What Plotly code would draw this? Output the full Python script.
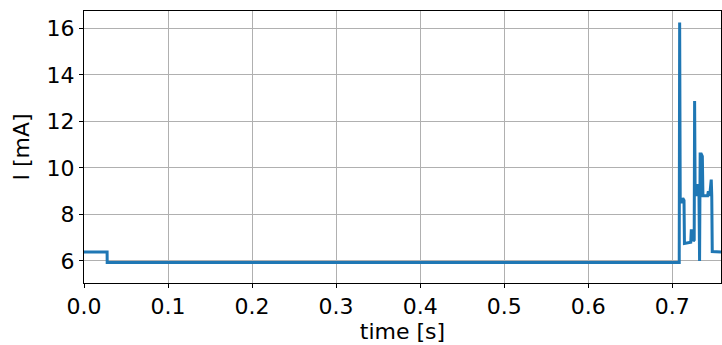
import plotly.graph_objects as go

# breakpoints of the current trace (time in s, current in mA)
time_s = [0.0, 0.0275, 0.0276, 0.7083, 0.7088, 0.7095, 0.7110, 0.7125, 0.7140, 0.7145, 0.7220, 0.7226,
          0.7244, 0.7250, 0.7261, 0.7266, 0.7272, 0.7285, 0.7295, 0.7318, 0.7325, 0.7332, 0.7345,
          0.7358, 0.7365, 0.7420, 0.7430, 0.7445, 0.7464, 0.7470, 0.7476, 0.758]
current_mA = [6.38, 6.38, 5.93, 5.93, 16.25, 8.6, 8.5, 8.7, 8.6, 6.75, 6.8, 7.3,
              7.3, 6.85, 6.9, 12.88, 9.0, 8.8, 9.3, 8.8, 6.0, 10.6, 10.6,
              10.5, 8.8, 8.8, 9.0, 8.8, 9.5, 8.8, 6.4, 6.38]

x_ticks = [0.0, 0.1, 0.2, 0.3, 0.4, 0.5, 0.6, 0.7]
y_ticks = [6, 8, 10, 12, 14, 16]

fig = go.Figure()
fig.add_trace(go.Scatter(x=time_s, y=current_mA, mode="lines",
                         line=dict(color="#1f77b4", width=3), showlegend=False))

font = dict(family="DejaVu Sans", size=22, color="black")
axis_common = dict(showgrid=True, gridcolor="#b0b0b0", gridwidth=1, showline=True,
                   linecolor="black", linewidth=1, mirror=True, ticks="outside",
                   ticklen=4, tickcolor="black", zeroline=False, tickfont=font,
                   automargin=False)
fig.update_layout(
    width=722, height=345,
    margin=dict(l=84, r=1, t=11, b=62),
    paper_bgcolor="white", plot_bgcolor="white",
    xaxis=dict(range=[0, 0.758], tickvals=x_ticks, ticktext=[f"{v:.1f}" for v in x_ticks],
               title=dict(text="time [s]", font=font, standoff=4), **axis_common),
    yaxis=dict(range=[5.05, 16.75], tickvals=y_ticks, ticktext=[str(v) for v in y_ticks],
               title=dict(text="I [mA]", font=font, standoff=10), **axis_common),
)
fig.write_html("out.html", config={"displayModeBar": False},
               post_script="document.body.style.margin='0';document.body.style.overflow='hidden';")
